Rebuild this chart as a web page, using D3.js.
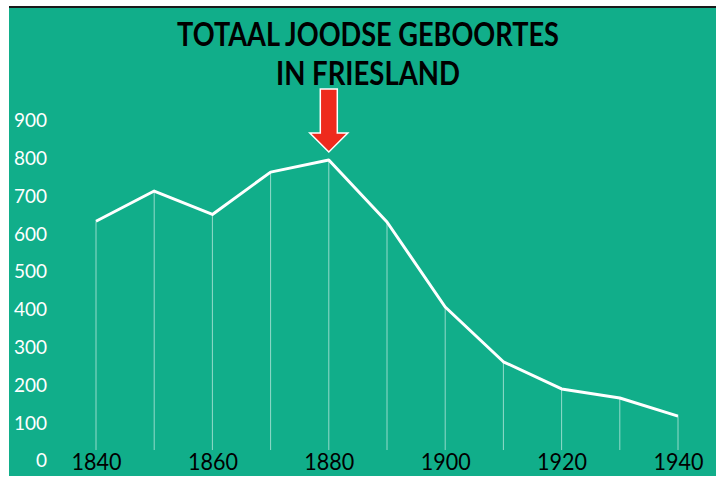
<!DOCTYPE html>
<html>
<head>
<meta charset="utf-8">
<script src="https://cdn.jsdelivr.net/npm/d3@7"></script>
<style>
  body { margin: 0; background: #fff; }
  svg { display: block; }
  text { font-family: Lato, "Open Sans", sans-serif; }
</style>
</head>
<body>
<div id="chart"></div>
<script>
var years = [1840, 1850, 1860, 1870, 1880, 1890, 1900, 1910, 1920, 1930, 1940];
var births = [632, 712, 650, 762, 794, 630, 405, 260, 188, 164, 116];
var yTicks = [0, 100, 200, 300, 400, 500, 600, 700, 800, 900];
var xTicks = [1840, 1860, 1880, 1900, 1920, 1940];
var title_lines = ["TOTAAL JOODSE GEBOORTES", "IN FRIESLAND"];
var peak_year = 1880;

var width = 716;
var height = 477;
var green = "#11ae8a";

var svg = d3.select("#chart").append("svg")
    .attr("width", width)
    .attr("height", height);

// background panel
svg.append("rect")
    .attr("x", 9)
    .attr("y", 7)
    .attr("width", width - 9)
    .attr("height", 469)
    .attr("fill", green);

svg.append("line")
    .attr("x1", 9).attr("x2", width)
    .attr("y1", 7).attr("y2", 7)
    .attr("stroke", "#1a1a1a")
    .attr("stroke-width", 2);

var x = d3.scaleLinear().domain([1840, 1940]).range([96, 678]);
var y = d3.scaleLinear().domain([0, 900]).range([460, 120]);

// title
svg.selectAll(".title")
    .data(title_lines)
  .enter().append("text")
    .attr("class", "title")
    .attr("x", 368)
    .attr("y", function(d, i){ return 46 + i * 39; })
    .attr("text-anchor", "middle")
    .attr("textLength", function(d, i){ return i == 0 ? 382 : 184; })
    .attr("lengthAdjust", "spacingAndGlyphs")
    .style("font-size", "32px")
    .style("font-weight", "bold")
    .style("fill", "#000")
    .text(function(d){ return d; });

// y axis labels (no line)
var yAxis = d3.axisLeft(y).tickValues(yTicks).tickSize(0).tickPadding(0);
var gy = svg.append("g")
    .attr("transform", "translate(47,0)")
    .call(yAxis);
gy.select(".domain").remove();
gy.selectAll("text")
    .attr("dy", "0.36em")
    .style("font-size", "19px")
    .style("font-family", "Lato, sans-serif")
    .style("fill", "#fff");

// x axis labels
var xAxis = d3.axisBottom(x).tickValues(xTicks).tickSize(0).tickPadding(0).tickFormat(d3.format("d"));
var gx = svg.append("g")
    .attr("transform", "translate(0,461)")
    .call(xAxis);
gx.select(".domain").remove();
gx.selectAll("text")
    .attr("dy", "0.36em")
    .attr("y", 0)
    .attr("textLength", 50)
    .attr("lengthAdjust", "spacingAndGlyphs")
    .style("font-size", "24px")
    .style("font-family", "Lato, sans-serif")
    .style("fill", "#000");

// drop lines
svg.selectAll(".drop")
    .data(years)
  .enter().append("line")
    .attr("class", "drop")
    .attr("x1", function(d){ return x(d); })
    .attr("x2", function(d){ return x(d); })
    .attr("y1", function(d, i){ return y(births[i]); })
    .attr("y2", 450)
    .attr("stroke", "#fff")
    .attr("stroke-opacity", 0.55)
    .attr("stroke-width", 1);

var line = d3.line()
    .x(function(d){ return x(d); })
    .y(function(d, i){ return y(births[i]); });

svg.append("path")
    .datum(years)
    .attr("d", line)
    .attr("fill", "none")
    .attr("stroke", "#fff")
    .attr("stroke-width", 3)
    .attr("stroke-linejoin", "round");

// red arrow pointing at the peak
var tipX = x(peak_year);
var tipY = y(births[years.indexOf(peak_year)]) - 8;
var arrow = d3.path();
arrow.moveTo(tipX, tipY);
arrow.lineTo(tipX - 19, tipY - 19);
arrow.lineTo(tipX - 8.5, tipY - 19);
arrow.lineTo(tipX - 8.5, tipY - 63);
arrow.lineTo(tipX + 8.5, tipY - 63);
arrow.lineTo(tipX + 8.5, tipY - 19);
arrow.lineTo(tipX + 19, tipY - 19);
arrow.closePath();

svg.append("path")
    .attr("d", arrow.toString())
    .attr("fill", "#ee2a1d")
    .attr("stroke", "#fff")
    .attr("stroke-width", 1.5);
</script>
</body>
</html>
